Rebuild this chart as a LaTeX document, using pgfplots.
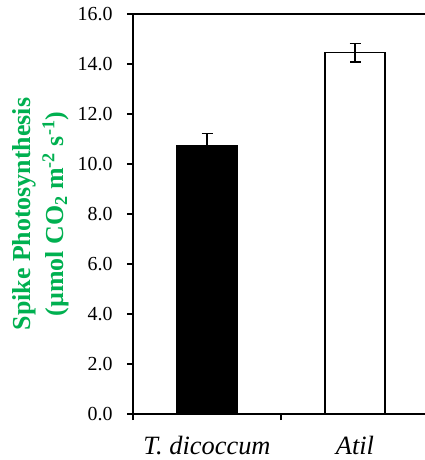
\documentclass[border=0pt]{standalone}
\usepackage{pgfplots}
\pgfplotsset{compat=1.18}
\usepackage{fontspec}
\setmainfont{Liberation Serif}
\definecolor{exgreen}{HTML}{00B050}
\begin{document}
\begin{tikzpicture}
\begin{axis}[
  at={(133bp,46bp)}, anchor=south west,
  scale only axis, width=296bp, height=400bp,
  xmin=0, xmax=2, ymin=0, ymax=16,
  ytick={0,2,...,16},
  xtick={0,1,2}, xticklabels={},
  extra x ticks={0.5,1.5},
  extra x tick labels={\textit{T. dicoccum},\textit{Atil}},
  extra x tick style={major tick length=0pt, tick label style={font=\fontsize{26.5}{30}\selectfont, yshift=-19bp}},
  tick align=outside, major tick length=6bp,
  xtick pos=bottom, ytick pos=left,
  axis line style={line width=1.3bp},
  tick style={line width=1.3bp, black},
  /pgf/number format/assume math mode=true,
  yticklabel style={font=\fontsize{20}{24}\selectfont, /pgf/number format/fixed, /pgf/number format/fixed zerofill, /pgf/number format/precision=1, xshift=-11bp},
  ylabel={Spike Photosynthesis\\(µmol CO\textsubscript{2} m\textsuperscript{-2} s\textsuperscript{-1})},
  ylabel style={at={(axis description cs:-0.312,0.5)}, anchor=center, rotate=0, font=\bfseries\fontsize{26}{33}\selectfont, text=exgreen, align=center},
  ybar, bar width=60bp,
  error bars/error bar style={line width=1.3bp, black},
  error bars/error mark options={rotate=90, mark size=5.5bp, line width=1.3bp, black},
]
\addplot[fill=black, draw=black, line width=1.3bp, bar shift=0pt,
  error bars/.cd, y dir=both, y explicit]
  coordinates {(0.5,10.73) +- (0,0.48)};
\addplot[fill=white, draw=black, line width=1.3bp, bar shift=0pt,
  error bars/.cd, y dir=both, y explicit]
  coordinates {(1.5,14.45) +- (0,0.37)};
\end{axis}
\pgfresetboundingbox
\path[use as bounding box] (0,0) rectangle (425bp,460bp);
\end{tikzpicture}
\end{document}
